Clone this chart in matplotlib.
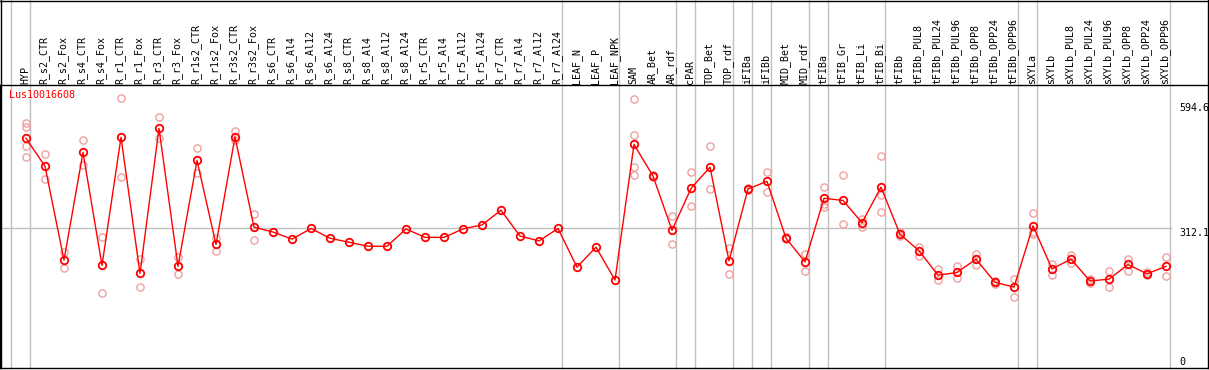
import matplotlib
matplotlib.use('Agg')
import matplotlib.pyplot as plt
from matplotlib.lines import Line2D

## Data read from the profile
gene = 'Lus10016608'

cats = ['HYP', 'R_s2_CTR', 'R_s2_Fox', 'R_s4_CTR', 'R_s4_Fox', 'R_r1_CTR', 'R_r1_Fox',
        'R_r3_CTR', 'R_r3_Fox', 'R_r1s2_CTR', 'R_r1s2_Fox', 'R_r3s2_CTR', 'R_r3s2_Fox',
        'R_s6_CTR', 'R_s6_Al4', 'R_s6_Al12', 'R_s6_Al24', 'R_s8_CTR', 'R_s8_Al4',
        'R_s8_Al12', 'R_s8_Al24', 'R_r5_CTR', 'R_r5_Al4', 'R_r5_Al12', 'R_r5_Al24',
        'R_r7_CTR', 'R_r7_Al4', 'R_r7_Al12', 'R_r7_Al24', 'LEAF_N', 'LEAF_P', 'LEAF_NPK',
        'SAM', 'AR_Bet', 'AR_rdf', 'cPAR', 'TOP_Bet', 'TOP_rdf', 'iFIBa', 'iFIBb',
        'MID_Bet', 'MID_rdf', 'tFIBa', 'tFIB_Gr', 'tFIB_Li', 'tFIB_Bi', 'tFIBb',
        'tFIBb_PUL8', 'tFIBb_PUL24', 'tFIBb_PUL96', 'tFIBb_OPP8', 'tFIBb_OPP24',
        'tFIBb_OPP96', 'sXYLa', 'sXYLb', 'sXYLb_PUL8', 'sXYLb_PUL24', 'sXYLb_PUL96',
        'sXYLb_OPP8', 'sXYLb_OPP24', 'sXYLb_OPP96']

means = [515, 452, 241, 483, 229, 517, 211, 537, 227, 465, 276, 518, 315,
         304, 288, 312, 290, 281, 272, 272, 311, 292, 292, 311, 320,
         353, 295, 284, 312, 225, 270, 196,
         501, 430, 308, 402, 450, 239, 401, 418, 290, 237,
         380, 375, 325, 405, 299, 262, 207, 213, 243, 191, 180,
         318, 221, 243, 194, 198, 231, 210, 227]

reps = [[550, 541, 497, 473], [479, 423], [260, 224], [512, 455], [293, 166],
        [605, 427], [243, 180], [562, 515], [247, 209], [494, 436], [290, 262],
        [531, 510], [344, 286],
        [], [], [], [], [], [], [], [], [], [], [], [], [], [], [], [], [], [], [],
        [603, 522, 451, 432], [432, 428], [340, 278], [440, 362], [497, 401],
        [268, 209], [404, 398], [440, 395], [292, 288], [255, 216],
        [405, 368, 360], [432, 322], [333, 316], [475, 387, 349], [294, 303],
        [270, 251], [220, 195], [227, 200], [254, 230], [194, 188], [198, 159],
        [347, 305, 299], [233, 207], [252, 235], [198, 190], [216, 180],
        [244, 217], [213, 207], [248, 204]]

# last sample index of each group (grey separators)
group_ends = [-1, 0, 28, 31, 34, 35, 37, 38, 39, 41, 42, 45, 52, 53, 60]

ref_line = 312.1
ytick_vals = [594.6, 312.1, 0]

## Plot
W, H = 1209, 370
top_px, bot_px = 85, 368
fig = plt.figure(figsize=(W / 100, H / 100), dpi=100)
ax = fig.add_axes([0, (H - bot_px) / H, 1, (bot_px - top_px) / H])
ax.set_xlim(-26 / 19, (W - 26) / 19)
ax.set_ylim(-1.8, 634.7)
ax.set_xticks([])
ax.set_yticks([])
for s in ax.spines.values():
    s.set_color('black')
    s.set_linewidth(1)

fs = 7.2
mono = 'DejaVu Sans Mono'
grey = '#c0c0c0'
xr = (1171) / W

# separators and reference line
for g in group_ends:
    ax.axvline(g + 0.21, ymin=0, ymax=bot_px / (bot_px - top_px), color=grey,
               lw=1, clip_on=False, zorder=1)
ax.axhline(ref_line, xmin=0, xmax=xr, color=grey, lw=1, zorder=1)

# replicate circles
for i, rr in enumerate(reps):
    for v in rr:
        ax.plot(i, v, 'o', ms=5.2, mfc='none', mec='#f0a0a0', mew=1, zorder=2)

# mean profile
xs = list(range(len(cats)))
ax.plot(xs, means, '-', color='red', lw=1, zorder=3)
ax.plot(xs, means, 'o', ms=5.4, mfc='none', mec='red', mew=1.3, zorder=4)

# sample labels in the header
for i, c in enumerate(cats):
    ax.text(i - 0.05, 1.004, c, rotation=90, ha='center', va='bottom',
            fontsize=fs, family=mono, transform=ax.get_xaxis_transform(),
            clip_on=False)

ax.text(9 / W, (bot_px - 90) / (bot_px - top_px), gene, color='red', fontsize=fs,
        family=mono, ha='left', va='top', transform=ax.transAxes)

# value labels on the right
for v in ytick_vals:
    ax.text(1179 / W, v, ('%g' % v), fontsize=fs, family=mono, ha='left',
            va='bottom' if v == 0 else 'top', transform=ax.get_yaxis_transform())

# outer frame of the header
fig.add_artist(Line2D([0, 1], [1 - 0.5 / H, 1 - 0.5 / H], color='black', lw=1))
fig.add_artist(Line2D([0.5 / W, 0.5 / W], [(H - bot_px) / H, 1], color='black', lw=1))
fig.add_artist(Line2D([1 - 1.5 / W, 1 - 1.5 / W], [(H - bot_px) / H, 1], color='black', lw=1))

fig.savefig('out.png', dpi=100)
